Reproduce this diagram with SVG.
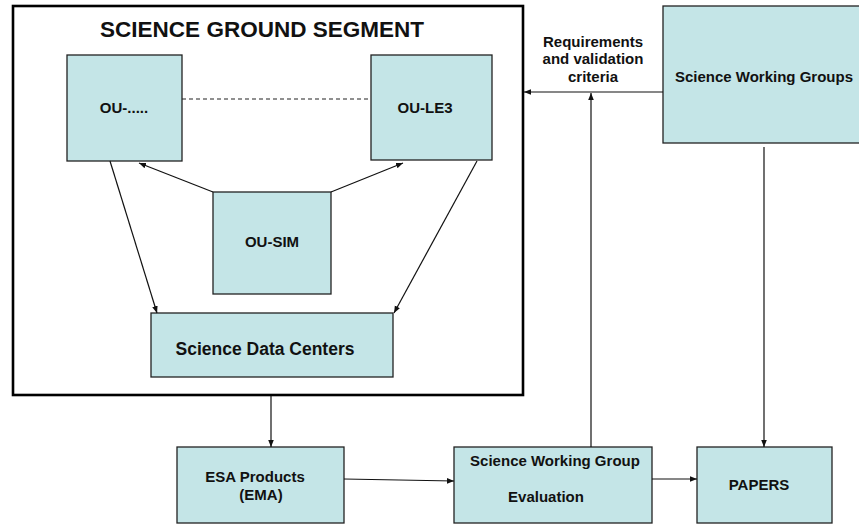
<svg xmlns="http://www.w3.org/2000/svg" width="859" height="525" viewBox="0 0 859 525">
  <defs>
    <marker id="arrow" viewBox="0 0 10 10" refX="10" refY="5" markerWidth="7" markerHeight="7" orient="auto" markerUnits="userSpaceOnUse">
      <path d="M0,1 L10,5 L0,9 Z" fill="#111"/>
    </marker>
  </defs>
  <style>
    .box { fill: #c4e5e7; stroke: #222; stroke-width: 1.3; }
    .frame { fill: none; stroke: #000; stroke-width: 2.6; }
    .lbl { font-family: "Liberation Sans", Arial, sans-serif; font-weight: bold; font-size: 15px; fill: #111; text-anchor: middle; }
    .title { font-family: "Liberation Sans", Arial, sans-serif; font-weight: bold; font-size: 22.5px; fill: #111; text-anchor: middle; }
    .edge { fill: none; stroke: #111; stroke-width: 1.2; }
    .dash { fill: none; stroke: #222; stroke-width: 1.2; stroke-dasharray: 4 3; }
  </style>
  <rect width="859" height="525" fill="#fff"/>

  <!-- Science ground segment frame -->
  <g id="sgs">
    <rect class="frame" x="13" y="6" width="510" height="389"/>
    <text class="title" x="262" y="37">SCIENCE GROUND SEGMENT</text>
  </g>

  <g id="ou-other">
    <rect class="box" x="67" y="55" width="115" height="106"/>
    <text class="lbl" x="124" y="113">OU-.....</text>
  </g>
  <g id="ou-le3">
    <rect class="box" x="371" y="55" width="121" height="105"/>
    <text class="lbl" x="425" y="113">OU-LE3</text>
  </g>
  <g id="ou-sim">
    <rect class="box" x="213" y="192" width="118" height="102"/>
    <text class="lbl" x="272" y="247">OU-SIM</text>
  </g>
  <g id="sdc">
    <rect class="box" x="151" y="313" width="242" height="64"/>
    <text class="lbl" x="265" y="355" style="font-size:17.5px">Science Data Centers</text>
  </g>

  <g id="swgs">
    <rect class="box" x="663" y="6" width="200" height="137"/>
    <text class="lbl" x="764" y="82">Science Working Groups</text>
  </g>

  <g id="req-label">
    <text class="lbl" x="593" y="47">Requirements</text>
    <text class="lbl" x="593" y="64">and validation</text>
    <text class="lbl" x="593" y="82">criteria</text>
  </g>

  <g id="esa">
    <rect class="box" x="177" y="447" width="167" height="76"/>
    <text class="lbl" x="255" y="482">ESA Products</text>
    <text class="lbl" x="261" y="500">(EMA)</text>
  </g>
  <g id="swg-eval">
    <rect class="box" x="454" y="447" width="198" height="76"/>
    <text class="lbl" x="555" y="466">Science Working Group</text>
    <text class="lbl" x="546" y="502">Evaluation</text>
  </g>
  <g id="papers">
    <rect class="box" x="697" y="447" width="135" height="76"/>
    <text class="lbl" x="759" y="490">PAPERS</text>
  </g>

  <g id="connectors">
    <line class="dash" x1="182" y1="99" x2="371" y2="99"/>
    <line class="edge" x1="110" y1="161" x2="157" y2="313" marker-end="url(#arrow)"/>
    <line class="edge" x1="477" y1="161" x2="394" y2="313" marker-end="url(#arrow)"/>
    <line class="edge" x1="213" y1="192" x2="139" y2="163" marker-end="url(#arrow)"/>
    <line class="edge" x1="331" y1="192" x2="403" y2="163" marker-end="url(#arrow)"/>
    <line class="edge" x1="663" y1="92" x2="524" y2="92" marker-end="url(#arrow)"/>
    <line class="edge" x1="591" y1="447" x2="591" y2="93" marker-end="url(#arrow)"/>
    <line class="edge" x1="764" y1="147" x2="764" y2="447" marker-end="url(#arrow)"/>
    <line class="edge" x1="271" y1="396" x2="271" y2="447" marker-end="url(#arrow)"/>
    <line class="edge" x1="344" y1="479" x2="454" y2="481" marker-end="url(#arrow)"/>
    <line class="edge" x1="652" y1="479" x2="697" y2="479" marker-end="url(#arrow)"/>
  </g>
</svg>
